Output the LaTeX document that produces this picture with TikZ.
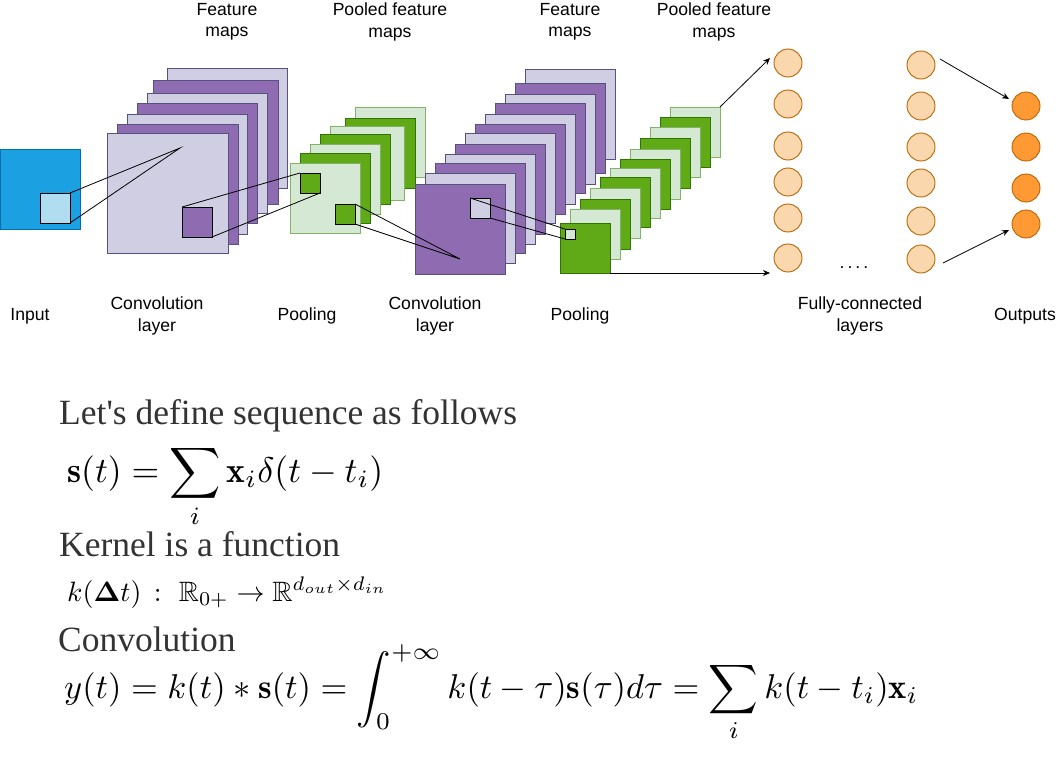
\documentclass[tikz,border=0pt]{standalone}
\usepackage{fontspec}
\usepackage{amsmath,amssymb}
\usepackage{graphicx}
\usetikzlibrary{arrows.meta}
\newfontfamily\labfont{Liberation Sans}
\newfontfamily\serfont{Liberation Serif}
\definecolor{lavL}{HTML}{D0CEE2}
\definecolor{lavD}{HTML}{56517E}
\definecolor{purF}{HTML}{8F6BB1}
\definecolor{lgF}{HTML}{D5E8D4}
\definecolor{lgD}{HTML}{82B366}
\definecolor{dgF}{HTML}{60A917}
\definecolor{dgD}{HTML}{2D7600}
\definecolor{blF}{HTML}{1BA1E2}
\definecolor{blD}{HTML}{006EAF}
\definecolor{lbF}{HTML}{B1DDF0}
\definecolor{fcF}{HTML}{FAD7AC}
\definecolor{fcD}{HTML}{B46504}
\definecolor{outF}{HTML}{FF9933}
\definecolor{txtG}{HTML}{333333}
\begin{document}
\begin{tikzpicture}[x=1pt,y=-1pt,
  box/.style={rectangle, inner sep=0pt, outer sep=0pt, line width=0.9pt, anchor=north west},
  lav/.style={box, fill=lavL, draw=lavD},
  pur/.style={box, fill=purF, draw=lavD},
  lg/.style={box, fill=lgF, draw=lgD},
  dg/.style={box, fill=dgF, draw=dgD},
  kbox/.style={box, draw=black},
  lbl/.style={font=\labfont\fontsize{17.6}{21.5}\selectfont, align=center, text=black, inner sep=0pt},
  neur/.style={circle, minimum size=28pt, inner sep=0pt, fill=fcF, draw=fcD, line width=0.9pt},
  outn/.style={neur, fill=outF},
  conn/.style={draw=black, line width=0.8pt},
  arr/.style={conn, -{Stealth[length=7pt,width=6pt]}},
  serif/.style={font=\serfont\fontsize{35.5}{40}\selectfont, text=txtG, anchor=base west, inner sep=0pt},
  eqn/.style={anchor=base west, inner sep=0pt}
]
\useasboundingbox (0,0) rectangle (1058,768);

% input
\node[box, fill=blF, draw=blD, minimum width=80pt, minimum height=80pt] (inp) at (0.5,149) {};
\node[kbox, fill=lbF, minimum size=30pt] (ik) at (40,193) {};

% convolution layer 1
\foreach \x/\y/\w/\h/\s [count=\i] in {167/68/120/120/lav, 153/80/125/124/pur, 147/93/120/120/lav, 137/103/120/120/pur, 127/114/120/120/lav, 117/124/121/120/pur, 107/133/121/120/lav}
  \node[\s, minimum width=\w pt, minimum height=\h pt] (c1-\i) at (\x,\y) {};
\node[kbox, fill=purF, minimum size=30pt] (c1k) at (182,207) {};
\coordinate (c1p) at (180,148);

% pooling 1
\foreach \x/\y/\w/\s [count=\i] in {355/107/70/lg, 345/118/70/dg, 330/126/74/lg, 320/134/70/dg, 310/144/70/lg, 300/153/70/dg, 290/163/70/lg}
  \node[\s, minimum width=\w pt, minimum height=\w pt] (p1-\i) at (\x,\y) {};
\node[kbox, fill=dgF, minimum size=20pt] (p1a) at (300,173) {};
\node[kbox, fill=dgF, minimum size=20pt] (p1b) at (335,204) {};
\coordinate (c2p) at (460,259);

% convolution layer 2
\foreach \x/\y/\s [count=\i] in {525/69/lav, 515/83/pur, 505/94/lav, 495/103/pur, 485/114/lav, 475/124/pur, 465/133/lav, 455/144/pur, 445/154/lav, 435/163/pur, 425/173/lav, 415/184/pur}
  \node[\s, minimum width=90pt, minimum height=90pt] (c2-\i) at (\x,\y) {};
\node[kbox, fill=lavL, minimum size=20pt] (c2k) at (470,198) {};

% pooling 2
\foreach \x/\y/\s [count=\i] in {670/107/lg, 660/117/dg, 650/127/lg, 640/138/dg, 630/149/lg, 620/159/dg, 610/168/lg, 600/177/dg, 590/188/lg, 580/199/dg, 570/209/lg, 560/223/dg}
  \node[\s, minimum width=50pt, minimum height=50pt] (p2-\i) at (\x,\y) {};
\node[kbox, fill=lgF, minimum size=10pt] (p2k) at (565,229) {};

% connectors
\draw[conn] (ik.north east) -- (c1p) -- (ik.south east);
\draw[conn] (c1k.north west) -- (p1a.north west);
\draw[conn] (c1k.south east) -- (p1a.south east);
\draw[conn] (p1b.north east) -- (c2p) -- (p1b.south east);
\draw[conn] (c2k.north west) -- (p2k.north west);
\draw[conn] (c2k.south east) -- (p2k.south west);

% fully connected
\foreach \y [count=\i] in {63,104,146,182,218,258}
  \node[neur] (f1-\i) at (788,\y) {};
\foreach \y [count=\i] in {65,106,147,183,221,259}
  \node[neur] (f2-\i) at (921,\y) {};
\foreach \y [count=\i] in {106,147,188,224}
  \node[outn] (o-\i) at (1026,\y) {};
\node[lbl] (dots) at (854,268) {.\kern3pt.\kern3pt.\kern3pt.};

\coordinate (a1) at (770,58);
\coordinate (a2) at (770,273);
\draw[arr] (p2-1.north east) -- (a1);
\draw[arr] (p2-12.south east) -- (a2);
\coordinate (b1s) at (940,59);
\coordinate (b1e) at (1009,99);
\coordinate (b2s) at (943,263);
\coordinate (b2e) at (1009,230);
\draw[arr] (b1s) -- (b1e);
\draw[arr] (b2s) -- (b2e);

% labels
\node[lbl] (lfm1) at (227,22) {Feature\\maps};
\node[lbl] (lpf1) at (390,22) {Pooled feature\\maps};
\node[lbl] (lfm2) at (570,22) {Feature\\maps};
\node[lbl] (lpf2) at (714,22) {Pooled feature\\maps};
\node[lbl] (lin) at (30,316) {Input};
\node[lbl] (lcv1) at (157,316) {Convolution\\layer};
\node[lbl] (lp1) at (307,316) {Pooling};
\node[lbl] (lcv2) at (435,316) {Convolution\\layer};
\node[lbl] (lp2) at (580,316) {Pooling};
\node[lbl] (lfc) at (860,316) {Fully-connected\\layers};
\node[lbl] (lout) at (1025,316) {Outputs};

% math
\node[serif] (t1) at (59,424) {Let's define sequence as follows};
\node[eqn] (e1) at (67,482) {\resizebox{316pt}{!}{$\displaystyle \mathbf{s}(t) = \sum_i \mathbf{x}_i\delta(t-t_i)$}};
\node[serif] (t2) at (59,556) {Kernel is a function};
\node[eqn] (e2) at (67,601) {\resizebox{320pt}{!}{$k(\boldsymbol{\Delta}t)\,:\ \mathbb{R}_{0+}\rightarrow\mathbb{R}^{d_{out}\times d_{in}}$}};
\node[serif] (t3) at (58,651) {Convolution};
\node[eqn] (e3) at (64,698) {\resizebox{854pt}{!}{$\displaystyle y(t) = k(t) * \mathbf{s}(t) = \int_0^{+\infty} k(t-\tau)\mathbf{s}(\tau)d\tau = \sum_i k(t-t_i)\mathbf{x}_i$}};
\end{tikzpicture}
\end{document}
